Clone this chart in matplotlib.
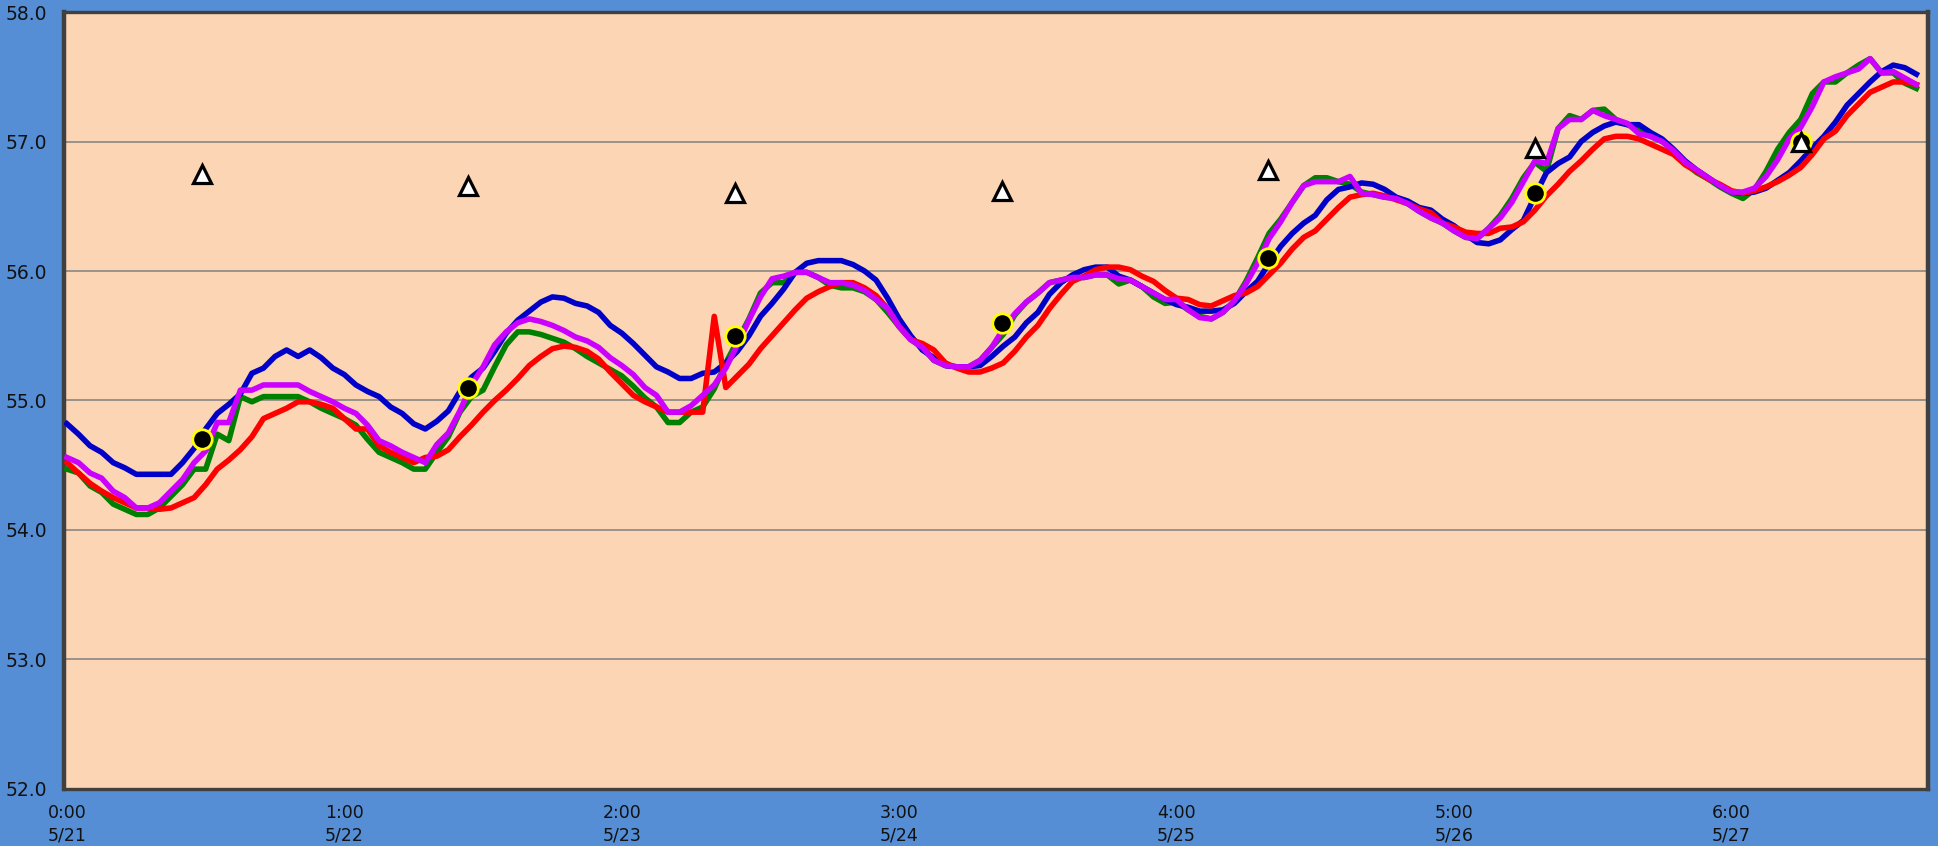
import numpy as np
import matplotlib
matplotlib.use('Agg')
import matplotlib.pyplot as plt

plt.rcParams['font.family'] = ['DejaVu Sans']

# hourly readings, 5/21 0:00 -> 5/27 16:00
hours = np.arange(161)

red = [54.52, 54.44, 54.36, 54.30, 54.25, 54.21, 54.17, 54.17, 54.16, 54.17,
       54.21, 54.25, 54.35, 54.47, 54.54, 54.62, 54.72, 54.86, 54.90, 54.94,
       54.99, 54.99, 54.97, 54.94, 54.86, 54.78, 54.78, 54.65, 54.60, 54.56,
       54.52, 54.56, 54.57, 54.62,
       54.72, 54.81, 54.91, 55.00, 55.08, 55.17, 55.27, 55.34, 55.40, 55.42,
       55.41, 55.38, 55.32, 55.22, 55.13, 55.04, 54.99, 54.95, 54.91, 54.91,
       54.91, 54.91, 55.65, 55.10, 55.19, 55.28, 55.40, 55.50, 55.60, 55.70,
       55.79, 55.84, 55.88, 55.91, 55.91, 55.87, 55.81, 55.71, 55.57, 55.47,
       55.44, 55.39, 55.29, 55.25, 55.22, 55.22, 55.25, 55.29, 55.38, 55.49,
       55.58, 55.71, 55.82, 55.92, 55.96, 56.01, 56.03, 56.03, 56.01, 55.96,
       55.92, 55.85,
       55.79, 55.78, 55.74, 55.73, 55.77, 55.81, 55.83, 55.88, 55.97, 56.06,
       56.17, 56.26, 56.31, 56.40, 56.49, 56.57, 56.59, 56.60, 56.58, 56.55,
       56.52, 56.48, 56.45, 56.37, 56.34, 56.30, 56.29, 56.29, 56.33, 56.34,
       56.38, 56.47,
       56.58, 56.67, 56.77, 56.85, 56.94, 57.02, 57.04, 57.04, 57.02, 56.98,
       56.94, 56.90, 56.82, 56.77, 56.71, 56.67, 56.62, 56.60, 56.62, 56.65,
       56.69, 56.74, 56.80, 56.90, 57.02, 57.08, 57.20, 57.29, 57.38, 57.42,
       57.46, 57.46, 57.44]

green = [54.47, 54.44, 54.34, 54.29, 54.20, 54.16, 54.12, 54.12, 54.17, 54.26,
         54.35, 54.47, 54.47, 54.74, 54.69, 55.03, 54.99, 55.03, 55.03, 55.03,
         55.03, 54.99, 54.94, 54.90, 54.86, 54.81, 54.70, 54.60, 54.56, 54.52,
         54.47, 54.47, 54.60, 54.72,
         54.91, 55.03, 55.08, 55.26, 55.43, 55.53, 55.53, 55.51, 55.48, 55.45,
         55.40, 55.34, 55.29, 55.24, 55.19, 55.11, 55.02, 54.95, 54.83, 54.83,
         54.91, 54.95, 55.09, 55.29, 55.46, 55.63, 55.83, 55.91, 55.91, 55.99,
         55.99, 55.95, 55.89, 55.87, 55.87, 55.84, 55.78, 55.68, 55.57, 55.47,
         55.41, 55.31, 55.27, 55.26, 55.26, 55.31, 55.41, 55.51, 55.66, 55.76,
         55.83, 55.91, 55.93, 55.95, 55.95, 55.97, 55.97, 55.90, 55.93, 55.88,
         55.80, 55.75,
         55.76, 55.70, 55.65, 55.63, 55.68, 55.77, 55.92, 56.10, 56.29, 56.40,
         56.53, 56.66, 56.72, 56.72, 56.69, 56.67, 56.61, 56.59, 56.57, 56.56,
         56.52, 56.46, 56.41, 56.37, 56.31, 56.26, 56.25, 56.33, 56.43, 56.56,
         56.72, 56.84,
         56.77, 57.10, 57.20, 57.17, 57.24, 57.25, 57.17, 57.13, 57.09, 57.04,
         57.00, 56.93, 56.83, 56.76, 56.71, 56.65, 56.60, 56.56, 56.63, 56.77,
         56.94, 57.07, 57.17, 57.37, 57.46, 57.46, 57.53, 57.59, 57.64, 57.53,
         57.53, 57.45, 57.41]

blue = [54.82, 54.74, 54.65, 54.60, 54.52, 54.48, 54.43, 54.43, 54.43, 54.43,
        54.52, 54.63, 54.78, 54.90, 54.97, 55.05, 55.21, 55.25, 55.34, 55.39,
        55.34, 55.39, 55.33, 55.25, 55.20, 55.12, 55.07, 55.03, 54.95, 54.90,
        54.82, 54.78, 54.84, 54.92,
        55.07, 55.18, 55.25, 55.38, 55.52, 55.62, 55.69, 55.76, 55.80, 55.79,
        55.75, 55.73, 55.68, 55.58, 55.52, 55.44, 55.35, 55.26, 55.22, 55.17,
        55.17, 55.21, 55.22, 55.29, 55.38, 55.50, 55.65, 55.75, 55.86, 55.99,
        56.06, 56.08, 56.08, 56.08, 56.05, 56.00, 55.93, 55.79, 55.63, 55.50,
        55.39, 55.33, 55.27, 55.26, 55.26, 55.27, 55.34, 55.42, 55.49, 55.60,
        55.68, 55.82, 55.91, 55.97, 56.01, 56.03, 56.03, 55.96, 55.93, 55.88,
        55.83, 55.78,
        55.74, 55.72, 55.69, 55.69, 55.70, 55.75, 55.84, 55.92, 56.06, 56.19,
        56.29, 56.37, 56.43, 56.55, 56.63, 56.65, 56.68, 56.67, 56.63, 56.57,
        56.54, 56.49, 56.47, 56.40, 56.35, 56.28, 56.22, 56.21, 56.24, 56.32,
        56.39, 56.58,
        56.76, 56.83, 56.88, 57.00, 57.07, 57.12, 57.15, 57.13, 57.13, 57.07,
        57.02, 56.94, 56.85, 56.78, 56.72, 56.66, 56.61, 56.60, 56.61, 56.64,
        56.70, 56.76, 56.85, 56.95, 57.04, 57.15, 57.28, 57.37, 57.46, 57.54,
        57.59, 57.57, 57.52]

magenta = [54.56, 54.52, 54.44, 54.40, 54.30, 54.25, 54.17, 54.17, 54.21, 54.30,
           54.39, 54.52, 54.61, 54.83, 54.83, 55.08, 55.08, 55.12, 55.12, 55.12,
           55.12, 55.07, 55.03, 54.99, 54.94, 54.90, 54.81, 54.69, 54.65, 54.60,
           54.56, 54.52, 54.66, 54.75,
           54.92, 55.12, 55.26, 55.43, 55.53, 55.60, 55.63, 55.61, 55.58, 55.54,
           55.49, 55.46, 55.41, 55.33, 55.27, 55.20, 55.10, 55.04, 54.91, 54.91,
           54.96, 55.04, 55.12, 55.25, 55.43, 55.62, 55.80, 55.94, 55.96, 55.99,
           55.99, 55.95, 55.91, 55.91, 55.89, 55.85, 55.78, 55.71, 55.57, 55.47,
           55.41, 55.31, 55.27, 55.26, 55.26, 55.31, 55.41, 55.55, 55.67, 55.76,
           55.83, 55.91, 55.93, 55.95, 55.95, 55.97, 55.97, 55.94, 55.93, 55.88,
           55.83, 55.78,
           55.78, 55.70, 55.64, 55.63, 55.68, 55.77, 55.90, 56.06, 56.25, 56.38,
           56.53, 56.66, 56.69, 56.69, 56.69, 56.73, 56.60, 56.59, 56.57, 56.56,
           56.52, 56.46, 56.41, 56.37, 56.31, 56.26, 56.25, 56.33, 56.41, 56.53,
           56.69, 56.85,
           56.83, 57.10, 57.17, 57.17, 57.24, 57.20, 57.17, 57.14, 57.06, 57.04,
           57.00, 56.93, 56.84, 56.78, 56.72, 56.66, 56.61, 56.61, 56.64, 56.73,
           56.86, 57.02, 57.11, 57.27, 57.46, 57.50, 57.53, 57.56, 57.64, 57.53,
           57.54, 57.49, 57.44]

# daily marks
mark_x = [11.7, 34.7, 57.8, 80.9, 103.9, 127.0, 150.0]
dot_y = [54.70, 55.10, 55.50, 55.60, 56.10, 56.60, 57.00]
tri_y = [56.75, 56.66, 56.60, 56.62, 56.78, 56.95, 57.00]

tick_pos = [0, 24, 48, 72, 96, 120, 144]
tick_lab = ['0:00\n5/21', '1:00\n5/22', '2:00\n5/23', '3:00\n5/24',
            '4:00\n5/25', '5:00\n5/26', '6:00\n5/27']

fig = plt.figure(figsize=(19.38, 8.46), dpi=100, facecolor='#558ED5')
ax = fig.add_axes([0.0330, 0.0674, 0.9618, 0.9184])
ax.set_facecolor('#FCD5B5')

ax.plot(hours, green, color='#008000', lw=4.0, zorder=3)
ax.plot(hours, blue, color='#0000C8', lw=4.0, zorder=4)
ax.plot(hours, red, color='#FF0000', lw=4.0, zorder=5)
ax.plot(hours, magenta, color='#CC00FF', lw=4.0, zorder=6)

ax.plot(mark_x, dot_y, 'o', ms=14, mfc='black', mec='#FFFF00', mew=2.0, zorder=7)
ax.plot(mark_x, tri_y, '^', ms=13, mfc='white', mec='black', mew=2.3, zorder=8)

ax.set_xlim(-0.26, 161)
ax.set_ylim(52, 58)
ax.set_yticks(np.arange(52, 58.01, 1.0))
ax.set_yticklabels(['%.1f' % v for v in np.arange(52, 58.01, 1.0)])
ax.set_xticks(tick_pos)
ax.set_xticklabels(tick_lab, linespacing=1.3)

ax.yaxis.grid(True, color='#7F7F7F', lw=1.1)
ax.set_axisbelow(True)
ax.tick_params(axis='y', length=0, pad=12, labelsize=13.5, labelcolor='#111111')
ax.tick_params(axis='x', length=0, pad=11, labelsize=12.5, labelcolor='#111111')

for s in ax.spines.values():
    s.set_color('#404040')
    s.set_linewidth(2.4)
ax.spines['left'].set_linewidth(3.2)
ax.spines['right'].set_linewidth(3.2)

fig.savefig('out.png', dpi=100, facecolor=fig.get_facecolor())
